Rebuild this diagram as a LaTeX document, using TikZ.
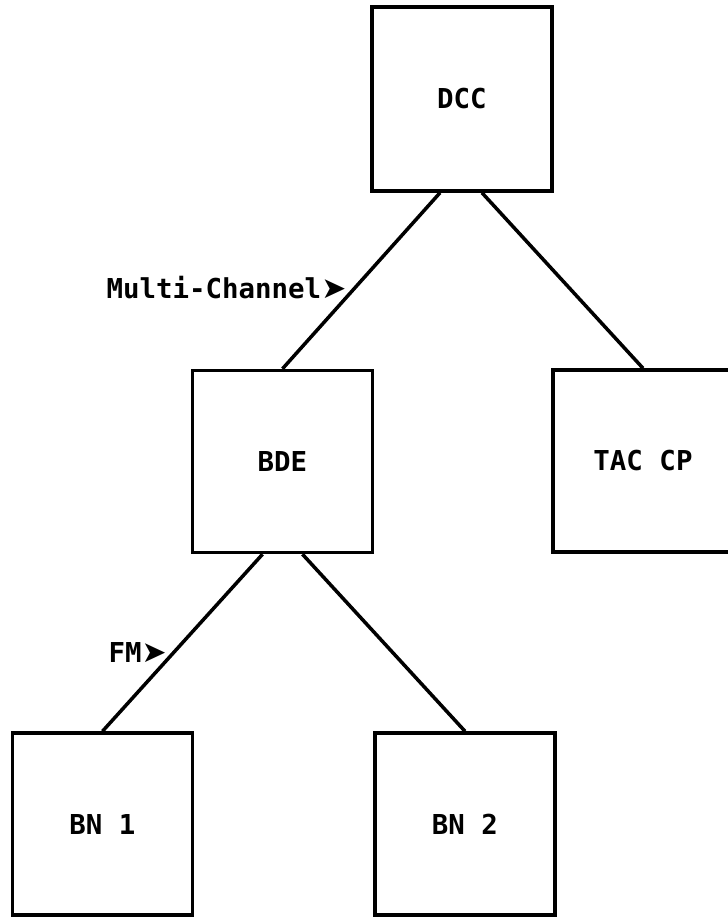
\documentclass[tikz,border=0pt]{standalone}
\usepackage{fontspec}
\setmonofont{DejaVu Sans Mono}
\newfontfamily\arrowfont{DejaVu Sans}
\usepackage{tikz}
\tikzset{
    unitbox/.style={draw, line width=1pt, minimum width=1.80cm, minimum height=1.82cm,
                    font=\ttfamily\bfseries\fontsize{7.8}{9}\selectfont},
    link/.style={line width=1pt},
    linklabel/.style={anchor=west, inner sep=0pt, font=\ttfamily\bfseries\fontsize{7.8}{9}\selectfont}
}

\begin{document}
\begin{tikzpicture}
            % Frame to ensure alignment:
            \useasboundingbox                                               (0.00, 0.00) rectangle (7.28,-9.17);
            \clip                                                           (0.00, 0.00) rectangle (7.28,-9.17);
            % Units
            \node[unitbox, minimum height=1.84cm] (dcc)  at ( 4.62,-0.99) {DCC};
            \node[unitbox]                        (bde)  at ( 2.825,-4.615) {BDE};
            \node[unitbox]                        (tac)  at ( 6.43,-4.61) {TAC\ CP};
            \node[unitbox]                        (bn1)  at ( 1.025,-8.24) {BN\ 1};
            \node[unitbox]                        (bn2)  at ( 4.65,-8.24) {BN\ 2};
            % Links
            \draw[link] ([xshift=-0.22cm]dcc.south) -- (bde.north);
            \draw[link] ([xshift= 0.20cm]dcc.south) -- (tac.north);
            \draw[link] ([xshift=-0.20cm]bde.south) -- (bn1.north);
            \draw[link] ([xshift= 0.20cm]bde.south) -- (bn2.north);
            % Link labels
            \node[linklabel] (multi) at ( 1.06,-2.88) {Multi-Channel{\arrowfont\fontsize{8.5}{9}\selectfont ➤}};
            \node[linklabel] (fm)    at ( 1.08,-6.53) {FM{\arrowfont\fontsize{8.5}{9}\selectfont ➤}};
        \end{tikzpicture}
\end{document}
